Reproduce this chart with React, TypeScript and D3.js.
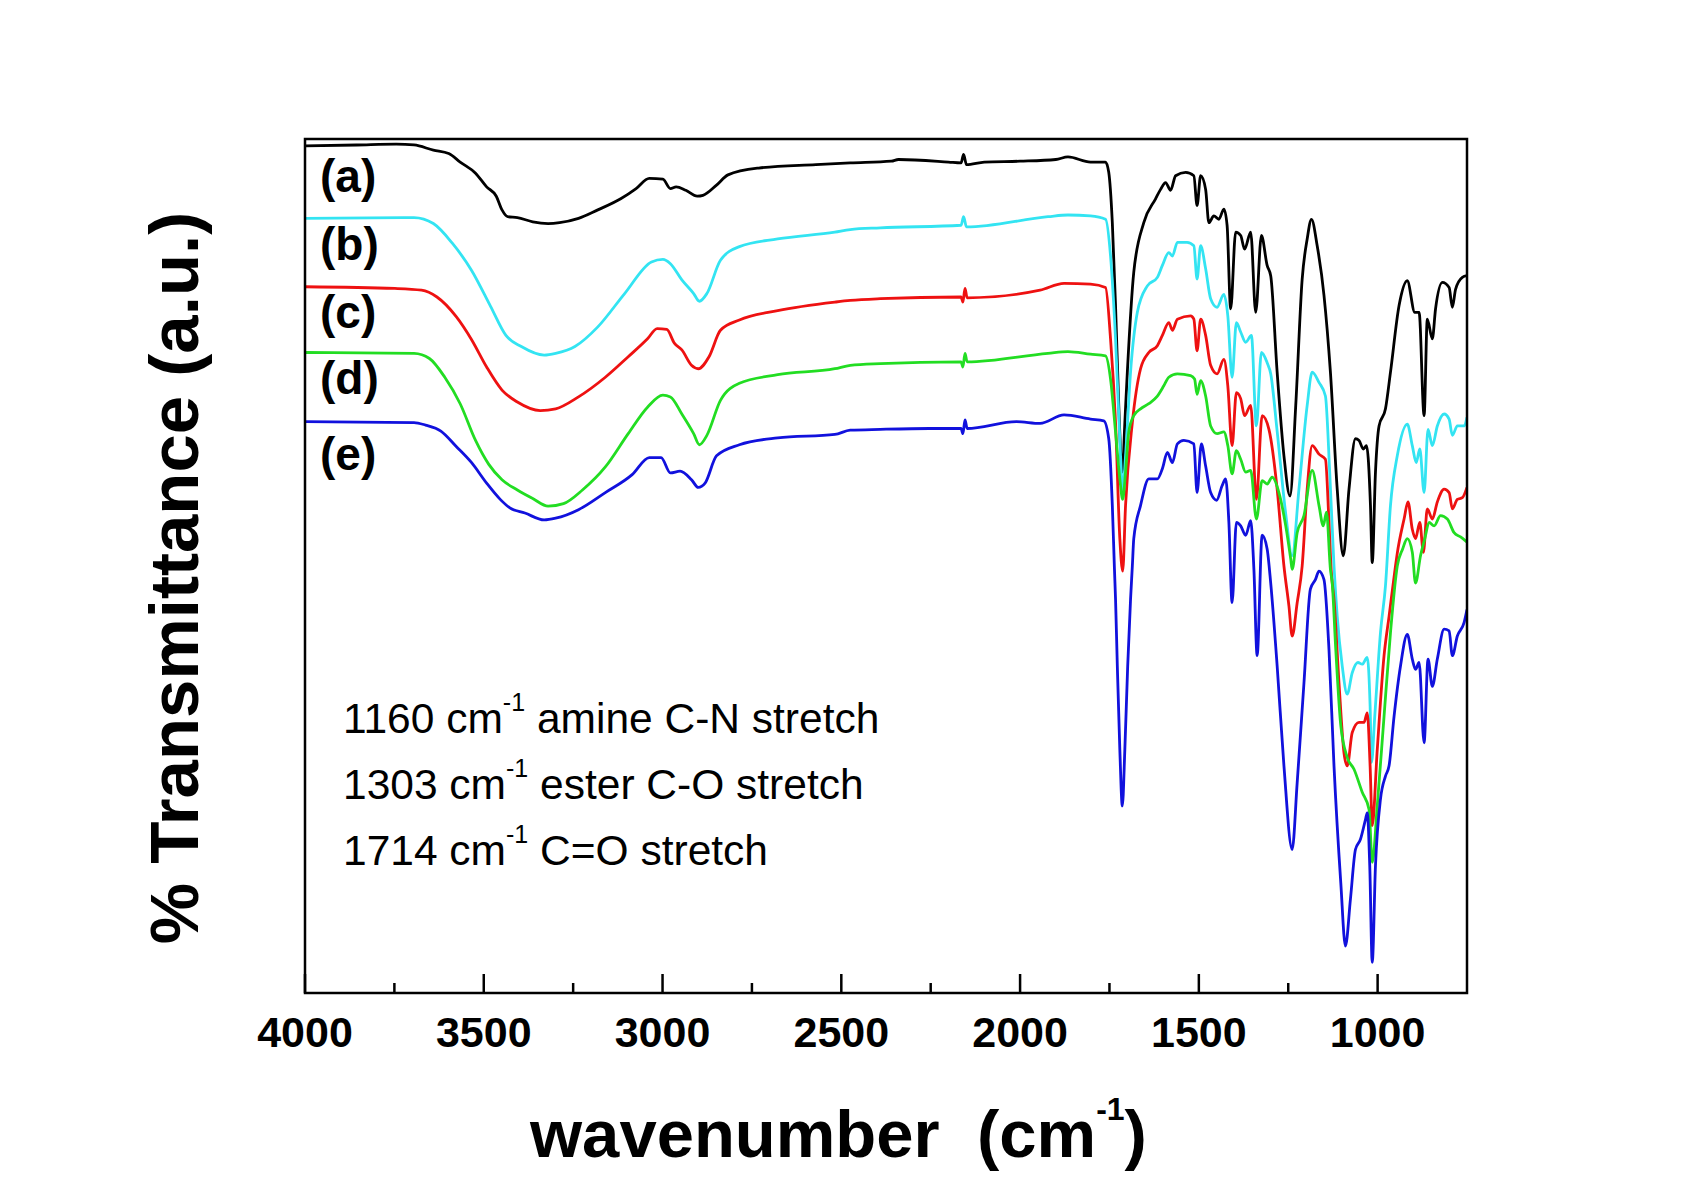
import React from "react";
import * as d3 from "d3";

type Pt = [number, number];

// ---- DATA (wavenumber cm^-1, transmittance a.u.) ----
const seriesNames = ["(a)", "(b)", "(c)", "(d)", "(e)"];

const seriesA: Pt[] = [
  [4000, 99.2], [3856, 99.3], [3745, 99.4], [3695, 99.3], [3641, 98.7], [3598, 98.3], [3566, 97.3], [3523, 96.0],
  [3492, 94.4], [3465, 93.3], [3449, 91.7], [3433, 90.9], [3406, 90.8], [3363, 90.3], [3320, 90.1], [3288, 90.2],
  [3235, 90.7], [3181, 91.7], [3117, 93.0], [3074, 94.2], [3037, 95.4], [2999, 95.3], [2978, 94.2], [2962, 94.4],
  [2935, 94.0], [2903, 93.3], [2887, 93.4], [2849, 94.6], [2817, 95.8], [2731, 96.6], [2571, 97.0], [2475, 97.2],
  [2360, 97.4], [2340, 97.6], [2200, 97.3], [2165, 97.2], [2158, 98.2], [2150, 97.0], [2100, 97.3], [2000, 97.4],
  [1900, 97.6], [1866, 97.9], [1803, 97.3], [1761, 97.3], [1752, 96.1], [1742, 90.2], [1733, 80.5], [1724, 68.8],
  [1714, 61.0], [1707, 66.8], [1700, 72.7], [1682, 84.4], [1654, 90.2], [1621, 93.0], [1607, 94.1], [1593, 94.9],
  [1579, 94.0], [1565, 95.7], [1537, 96.1], [1514, 95.7], [1505, 92.2], [1495, 95.7], [1481, 94.1], [1472, 90.2],
  [1458, 91.0], [1444, 90.6], [1430, 91.8], [1421, 89.9], [1411, 80.1], [1397, 89.1], [1383, 88.7], [1372, 87.1],
  [1355, 89.1], [1341, 79.7], [1325, 88.7], [1309, 85.2], [1299, 84.0], [1281, 72.7], [1262, 62.9], [1245, 58.2],
  [1229, 68.8], [1211, 83.6], [1197, 88.3], [1185, 90.6], [1169, 87.5], [1150, 81.7], [1132, 72.7], [1113, 59.0],
  [1096, 51.2], [1080, 59.0], [1062, 64.9], [1052, 64.7], [1040, 63.7], [1031, 64.1], [1020, 57.1], [1015, 50.4],
  [1006, 61.0], [996, 66.4], [978, 68.4], [964, 72.7], [940, 80.5], [917, 83.4], [896, 79.7], [884, 79.7],
  [870, 67.6], [861, 78.9], [847, 76.6], [838, 80.1], [819, 83.2], [800, 82.6], [791, 80.3], [782, 82.4],
  [763, 83.8], [750, 84.0],
];

const seriesB: Pt[] = [
  [4000, 90.7], [3695, 90.8], [3641, 90.1], [3588, 87.8], [3534, 84.6], [3481, 80.4], [3438, 77.0], [3395, 75.7],
  [3331, 74.7], [3299, 74.9], [3245, 75.7], [3181, 78.0], [3106, 81.9], [3031, 85.6], [2999, 85.9], [2978, 85.4],
  [2946, 83.5], [2913, 81.9], [2897, 81.0], [2876, 81.9], [2838, 85.8], [2785, 87.4], [2678, 88.3], [2518, 89.1],
  [2475, 89.4], [2391, 89.6], [2165, 89.9], [2158, 90.9], [2150, 89.7], [1922, 90.9], [1866, 91.1], [1803, 91.0],
  [1761, 90.6], [1747, 86.3], [1733, 76.6], [1719, 62.9], [1713, 58.6], [1705, 62.9], [1691, 72.7], [1672, 79.7],
  [1644, 82.8], [1616, 83.8], [1602, 85.2], [1584, 86.7], [1574, 86.3], [1560, 87.9], [1533, 87.9], [1514, 87.5],
  [1505, 83.6], [1495, 87.5], [1481, 84.8], [1467, 81.3], [1449, 80.3], [1430, 81.8], [1419, 79.3], [1407, 72.1],
  [1395, 78.5], [1383, 77.4], [1369, 76.2], [1353, 77.0], [1339, 66.4], [1325, 75.0], [1309, 73.8], [1299, 72.5],
  [1281, 65.8], [1257, 56.1], [1239, 51.2], [1220, 59.0], [1197, 68.8], [1183, 72.7], [1164, 71.5], [1146, 69.9],
  [1134, 61.0], [1122, 50.0], [1113, 44.1], [1099, 38.3], [1085, 35.0], [1071, 37.5], [1055, 38.7], [1043, 38.5],
  [1029, 39.3], [1021, 33.6], [1017, 27.0], [1008, 32.4], [992, 42.2], [978, 47.7], [964, 57.1], [945, 62.9],
  [917, 66.6], [903, 64.1], [892, 62.1], [882, 63.7], [870, 58.6], [859, 66.0], [847, 64.1], [833, 66.4],
  [814, 67.8], [800, 67.2], [791, 65.3], [777, 66.4], [758, 66.4], [750, 67.4],
];

const seriesC: Pt[] = [
  [4000, 82.7], [3749, 82.5], [3674, 82.3], [3631, 81.5], [3577, 79.2], [3534, 76.5], [3492, 73.3], [3449, 70.6],
  [3406, 69.2], [3342, 68.2], [3299, 68.4], [3235, 69.8], [3160, 72.1], [3096, 74.5], [3042, 76.6], [3015, 77.8],
  [2988, 77.7], [2967, 76.1], [2946, 75.3], [2919, 73.5], [2900, 73.1], [2870, 74.5], [2838, 77.6], [2785, 78.8],
  [2678, 79.9], [2518, 80.9], [2475, 81.1], [2391, 81.3], [2165, 81.5], [2160, 80.9], [2154, 82.5], [2148, 81.4],
  [1944, 82.3], [1877, 83.1], [1803, 83.0], [1761, 82.6], [1747, 76.6], [1733, 66.8], [1721, 53.2], [1713, 49.4],
  [1705, 57.1], [1686, 66.8], [1663, 73.1], [1640, 75.0], [1616, 75.8], [1602, 77.0], [1584, 78.5], [1574, 77.6],
  [1560, 78.9], [1523, 79.3], [1514, 78.9], [1505, 75.2], [1495, 78.9], [1481, 77.0], [1467, 73.5], [1449, 72.5],
  [1430, 74.2], [1419, 71.1], [1407, 64.1], [1395, 70.3], [1383, 69.6], [1372, 67.6], [1355, 68.8], [1339, 57.8],
  [1323, 67.6], [1304, 66.0], [1281, 59.0], [1262, 50.0], [1248, 45.3], [1239, 41.8], [1225, 45.7], [1211, 50.0],
  [1197, 59.0], [1183, 64.1], [1164, 63.1], [1146, 62.5], [1136, 55.1], [1130, 49.6], [1122, 46.1], [1108, 36.3],
  [1094, 28.1], [1085, 26.6], [1071, 30.5], [1052, 31.7], [1038, 31.7], [1029, 32.8], [1021, 26.6], [1015, 19.6],
  [1001, 28.5], [982, 39.5], [968, 44.1], [950, 50.0], [945, 51.5], [926, 55.5], [915, 57.5], [903, 54.3],
  [894, 53.2], [882, 55.1], [872, 51.6], [861, 56.7], [847, 55.5], [833, 57.5], [814, 59.0], [800, 58.6],
  [791, 56.7], [777, 57.8], [763, 58.0], [750, 59.2],
];

const seriesD: Pt[] = [
  [4000, 75.0], [3695, 74.9], [3652, 74.3], [3609, 72.1], [3566, 69.0], [3523, 64.7], [3486, 61.9], [3449, 60.1],
  [3406, 58.9], [3363, 57.9], [3320, 57.0], [3277, 57.3], [3224, 58.9], [3160, 61.6], [3096, 65.5], [3042, 68.6],
  [2999, 70.0], [2978, 69.8], [2946, 67.8], [2913, 65.5], [2897, 64.2], [2876, 65.3], [2838, 69.4], [2785, 71.4],
  [2678, 72.4], [2518, 73.1], [2475, 73.5], [2391, 73.7], [2165, 73.9], [2160, 73.3], [2154, 74.9], [2148, 73.9],
  [1922, 74.9], [1866, 75.1], [1803, 74.8], [1761, 74.6], [1747, 71.9], [1733, 65.7], [1721, 60.2], [1713, 57.8],
  [1705, 61.0], [1696, 65.7], [1682, 67.6], [1663, 68.4], [1640, 69.0], [1616, 69.9], [1598, 71.1], [1584, 72.1],
  [1560, 72.5], [1523, 72.3], [1512, 71.9], [1505, 70.1], [1495, 71.7], [1481, 69.9], [1467, 66.4], [1449, 65.5],
  [1430, 65.7], [1419, 64.1], [1407, 60.8], [1395, 63.5], [1383, 62.5], [1369, 61.0], [1355, 61.2], [1339, 55.5],
  [1323, 60.0], [1309, 59.6], [1295, 60.4], [1276, 58.6], [1257, 54.7], [1243, 50.8], [1239, 49.6], [1225, 53.9],
  [1206, 55.9], [1183, 61.2], [1164, 57.1], [1152, 54.7], [1143, 56.3], [1132, 49.6], [1127, 48.0], [1117, 40.2],
  [1103, 31.3], [1085, 27.6], [1066, 26.2], [1043, 23.5], [1024, 21.5], [1015, 15.3], [1001, 21.9], [982, 32.4],
  [964, 42.2], [945, 50.0], [930, 52.0], [917, 53.2], [903, 51.6], [894, 48.0], [880, 51.2], [868, 53.2],
  [856, 55.1], [842, 54.7], [824, 55.9], [805, 55.5], [786, 53.9], [768, 53.4], [750, 52.8],
];

const seriesE: Pt[] = [
  [4000, 66.9], [3695, 66.8], [3663, 66.5], [3620, 65.8], [3577, 64.0], [3534, 62.1], [3492, 59.7], [3454, 57.8],
  [3427, 56.8], [3385, 56.2], [3331, 55.4], [3299, 55.6], [3235, 56.6], [3160, 58.6], [3085, 60.7], [3037, 62.7],
  [3004, 62.7], [2978, 60.9], [2951, 61.1], [2919, 60.1], [2900, 59.2], [2881, 59.7], [2849, 62.9], [2785, 64.2],
  [2678, 65.0], [2518, 65.4], [2475, 65.9], [2391, 66.0], [2254, 66.1], [2165, 66.1], [2160, 65.5], [2154, 67.1],
  [2148, 66.1], [2010, 66.9], [1944, 66.7], [1877, 67.7], [1803, 67.2], [1766, 67.0], [1752, 64.9], [1742, 57.1],
  [1736, 49.6], [1733, 46.1], [1728, 38.3], [1721, 28.5], [1714, 21.9], [1707, 28.5], [1699, 38.3], [1691, 46.1],
  [1686, 50.0], [1682, 53.2], [1663, 57.1], [1640, 60.2], [1616, 60.2], [1602, 61.4], [1588, 63.3], [1574, 62.1],
  [1560, 64.3], [1542, 64.7], [1514, 64.3], [1505, 58.6], [1493, 64.3], [1481, 61.7], [1467, 58.6], [1450, 57.7],
  [1435, 59.4], [1425, 60.2], [1416, 55.1], [1407, 45.7], [1395, 55.1], [1383, 54.7], [1369, 53.6], [1355, 55.3],
  [1346, 49.6], [1337, 39.5], [1323, 53.6], [1309, 52.0], [1299, 48.0], [1281, 38.3], [1262, 26.6], [1239, 16.8],
  [1225, 24.6], [1206, 36.3], [1188, 47.3], [1174, 48.4], [1164, 49.4], [1150, 48.4], [1136, 40.2], [1122, 26.6],
  [1103, 12.9], [1090, 5.5], [1076, 11.0], [1062, 16.8], [1048, 18.0], [1034, 20.3], [1029, 21.1], [1022, 14.9],
  [1015, 3.6], [1006, 14.9], [992, 22.7], [978, 25.4], [968, 26.6], [954, 32.4], [936, 38.3], [917, 42.0],
  [903, 39.1], [894, 37.9], [884, 38.7], [870, 29.3], [859, 39.1], [847, 35.9], [833, 39.1], [814, 42.6],
  [800, 42.4], [791, 39.5], [777, 41.8], [758, 43.4], [750, 44.9],
];

const xMajorTicks = [4000, 3500, 3000, 2500, 2000, 1500, 1000];
const xMinorTicks = [3750, 3250, 2750, 2250, 1750, 1250];
const xDomain = [4000, 750];
const yDomain = [0, 100];

const annotationBands = ["1160", "1303", "1714"];
const annotationTexts = ["amine C-N stretch", "ester C-O stretch", "C=O stretch"];

// ---- LAYOUT / STYLE ----
const W = 1703;
const H = 1190;
const PL = 305, PR = 1467, PT = 139, PB = 993;
const colors = ["#000000", "#33E4F2", "#EE1111", "#22DD22", "#1111DD"];
const labelBaselines = [192, 260, 328, 394, 470];
const FONT = "'Liberation Sans', Arial, Helvetica, sans-serif";

export default function App() {
  const x = d3.scaleLinear().domain(xDomain).range([PL, PR]);
  const y = d3.scaleLinear().domain(yDomain).range([PB, PT]);
  const line = d3
    .line<Pt>()
    .x((d) => x(d[0]))
    .y((d) => y(d[1]))
    .curve(d3.curveMonotoneX);

  const allSeries = [seriesA, seriesB, seriesC, seriesD, seriesE];

  return (
    <svg
      width={W}
      height={H}
      viewBox={`0 0 ${W} ${H}`}
      style={{ position: "absolute", left: 0, top: 0, background: "#fff" }}
      fontFamily={FONT}
    >
      <rect x={0} y={0} width={W} height={H} fill="#fff" />
      <defs>
        <clipPath id="plotclip">
          <rect x={PL} y={PT} width={PR - PL} height={PB - PT} />
        </clipPath>
      </defs>

      <g clipPath="url(#plotclip)">
        {allSeries.map((s, i) => (
          <path
            key={i}
            d={line(s) || ""}
            fill="none"
            stroke={colors[i]}
            strokeWidth={2.8}
            strokeLinejoin="round"
          />
        ))}
      </g>

      {/* frame */}
      <rect x={PL} y={PT} width={PR - PL} height={PB - PT} fill="none" stroke="#000" strokeWidth={2.5} />

      {/* ticks */}
      {xMajorTicks.map((t) => (
        <line key={"M" + t} x1={x(t)} x2={x(t)} y1={PB} y2={PB - 19} stroke="#000" strokeWidth={2.5} />
      ))}
      {xMinorTicks.map((t) => (
        <line key={"m" + t} x1={x(t)} x2={x(t)} y1={PB} y2={PB - 10} stroke="#000" strokeWidth={2.5} />
      ))}
      {xMajorTicks.map((t) => (
        <text key={"L" + t} x={x(t)} y={1047} textAnchor="middle" fontSize={43} fontWeight="bold">
          {t}
        </text>
      ))}

      {/* series labels */}
      {seriesNames.map((n, i) => (
        <text key={n} x={320} y={labelBaselines[i]} fontSize={46} fontWeight="bold">
          {n}
        </text>
      ))}

      {/* annotations */}
      {annotationBands.map((b, i) => (
        <text key={b} x={343} y={733 + i * 66} fontSize={42.5}>
          {b + " cm"}
          <tspan fontSize={25} dy={-22}>-1</tspan>
          <tspan dy={22}>{" " + annotationTexts[i]}</tspan>
        </text>
      ))}

      {/* x title */}
      <text x={530} y={1157} fontSize={67} fontWeight="bold">
        wavenumber
        <tspan x={977}>(cm</tspan>
        <tspan fontSize={32} dy={-37}>-1</tspan>
        <tspan dy={37}>)</tspan>
      </text>

      {/* y title */}
      <text
        transform={`translate(198, 578) rotate(-90)`}
        textAnchor="middle"
        fontSize={69}
        fontWeight="bold"
      >
        % Transmittance (a.u.)
      </text>
    </svg>
  );
}
